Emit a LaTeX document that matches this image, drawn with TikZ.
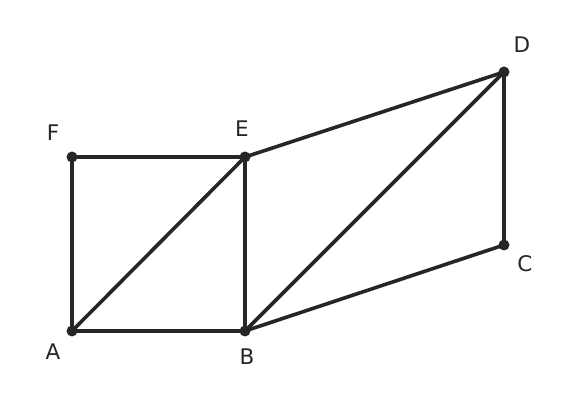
\documentclass[tikz,border=0pt]{standalone}
\usepackage{fontspec}
\setmainfont{DejaVu Sans}
\definecolor{ink}{HTML}{262626}
\begin{document}
\begin{tikzpicture}[x=1pt,y=-1pt,
  edge/.style={draw=ink,line width=3.6pt,line cap=round,line join=round},
  pt/.style={circle,fill=ink,inner sep=0pt,minimum size=11pt},
  lab/.style={text=ink,font=\fontsize{21.5}{25}\selectfont,inner sep=0pt}]
\useasboundingbox (0,0) rectangle (576,403);
\node[pt] (A) at (72,331) {};
\node[pt] (B) at (245,331) {};
\node[pt] (E) at (245,157) {};
\node[pt] (F) at (72,157) {};
\node[pt] (D) at (504,72) {};
\node[pt] (C) at (504,245) {};
\draw[edge] (A.center) -- (B.center) -- (E.center) -- (F.center) -- cycle;
\draw[edge] (A.center) -- (E.center);
\draw[edge] (E.center) -- (D.center) -- (C.center) -- (B.center);
\draw[edge] (B.center) -- (D.center);
\node[lab] (lA) at (53,352) {A};
\node[lab] (lB) at (247,357) {B};
\node[lab] (lE) at (242,129) {E};
\node[lab] (lF) at (53,133) {F};
\node[lab] (lD) at (522,45) {D};
\node[lab] (lC) at (525,264) {C};
\end{tikzpicture}
\end{document}
